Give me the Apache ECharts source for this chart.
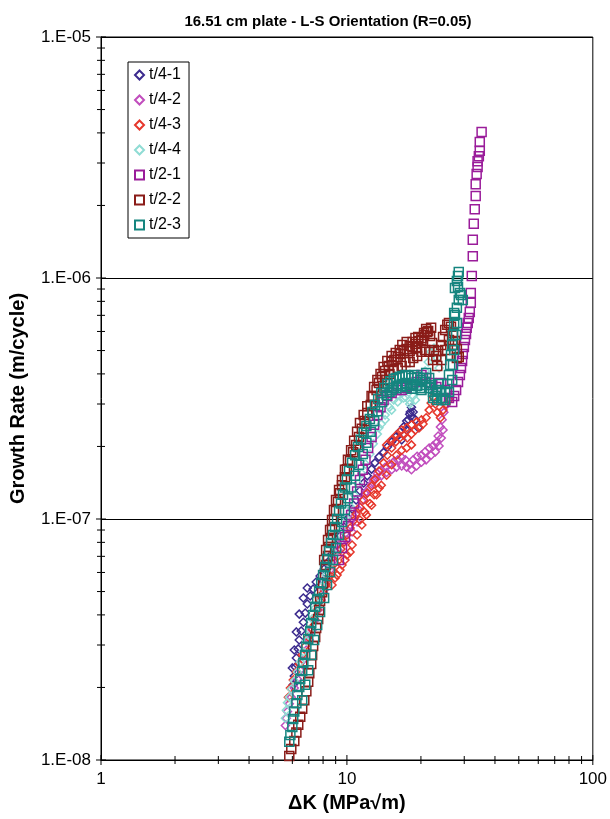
<!DOCTYPE html>
<html>
<head>
<meta charset="utf-8">
<style>
  html, body { margin: 0; padding: 0; background: #fff; }
  #chart { width: 610px; height: 819px; }
</style>
<script src="https://cdn.jsdelivr.net/npm/echarts@6/dist/echarts.min.js"></script>
</head>
<body>
<div id="chart"></div>
<script>
// values: [ΔK (MPa√m), da/dN (m/cycle)]
const seriesNames = ["t/4-1", "t/4-2", "t/4-3", "t/4-4", "t/2-1", "t/2-2", "t/2-3"];

const t41 = [
  [6.05, 2.05e-8], [6.11, 2.23e-8], [6.17, 2.43e-8], [6.23, 2.65e-8], [6.34, 2.89e-8],
  [6.40, 3.15e-8], [6.52, 3.43e-8], [6.65, 3.73e-8], [6.77, 4.07e-8], [6.90, 4.44e-8],
  [7.09, 4.79e-8], [7.29, 5.12e-8], [7.50, 5.48e-8], [7.78, 5.80e-8], [8.08, 6.20e-8],
  [8.38, 6.63e-8], [8.70, 7.16e-8], [9.03, 7.80e-8], [9.37, 8.50e-8], [9.73, 9.26e-8],
  [10.1, 1.01e-7], [10.5, 1.10e-7], [10.9, 1.20e-7], [11.3, 1.31e-7], [11.7, 1.41e-7],
  [12.1, 1.51e-7], [12.6, 1.61e-7], [13.0, 1.71e-7], [13.5, 1.81e-7], [14.1, 1.89e-7],
  [14.6, 1.99e-7], [15.2, 2.09e-7], [15.8, 2.19e-7], [16.4, 2.30e-7], [17.0, 2.41e-7],
  [17.5, 2.55e-7], [18.0, 2.72e-7], [18.3, 2.91e-7], [18.6, 2.78e-7], [19.0, 2.58e-7],
  [19.5, 2.39e-7],
  [6.00, 2.41e-8], [6.11, 2.86e-8], [6.23, 3.40e-8], [6.40, 4.03e-8], [6.65, 4.70e-8],
  [6.90, 5.17e-8], [17.5, 2.34e-7], [17.8, 2.58e-7], [18.1, 2.78e-7], [18.5, 2.63e-7],
  [16.7, 2.13e-7]
];

const t42 = [
  [5.62, 1.39e-8], [5.67, 1.49e-8], [5.73, 1.59e-8], [5.83, 1.71e-8], [5.94, 1.82e-8],
  [6.11, 1.99e-8], [6.29, 2.17e-8], [6.46, 2.36e-8], [6.65, 2.60e-8], [6.84, 2.86e-8],
  [7.03, 3.15e-8], [7.22, 3.46e-8], [7.43, 3.81e-8], [7.64, 4.19e-8], [7.86, 4.61e-8],
  [8.08, 5.07e-8], [8.30, 5.58e-8], [8.54, 6.14e-8], [8.86, 6.76e-8], [9.20, 7.43e-8],
  [9.55, 8.10e-8], [9.91, 8.75e-8], [10.3, 9.44e-8], [10.7, 1.02e-7], [11.1, 1.10e-7],
  [11.5, 1.19e-7], [11.9, 1.27e-7], [12.4, 1.35e-7], [12.8, 1.45e-7], [13.3, 1.54e-7],
  [13.8, 1.60e-7], [14.3, 1.64e-7], [14.9, 1.69e-7], [15.5, 1.73e-7], [16.1, 1.76e-7],
  [16.7, 1.80e-7], [17.3, 1.76e-7], [18.0, 1.69e-7], [18.6, 1.76e-7], [19.3, 1.82e-7],
  [20.1, 1.84e-7], [20.8, 1.90e-7], [21.6, 1.97e-7], [22.4, 2.01e-7], [23.1, 2.07e-7],
  [23.5, 2.21e-7], [24.0, 2.41e-7], [24.4, 2.58e-7], [24.8, 2.77e-7], [25.3, 2.97e-7],
  [26.0, 3.18e-7],
  [12.0, 1.30e-7], [12.6, 1.40e-7], [13.2, 1.48e-7], [13.8, 1.51e-7], [14.5, 1.56e-7],
  [15.2, 1.60e-7], [15.9, 1.64e-7], [16.7, 1.66e-7], [17.5, 1.64e-7], [18.3, 1.60e-7],
  [19.2, 1.66e-7], [20.1, 1.72e-7], [21.0, 1.76e-7], [22.0, 1.84e-7], [22.9, 1.90e-7],
  [23.7, 2.01e-7], [24.2, 2.17e-7], [24.6, 2.34e-7], [10.0, 8.18e-8], [10.5, 8.83e-8],
  [11.0, 9.72e-8]
];

const t43 = [
  [5.78, 1.82e-8], [5.89, 1.99e-8], [6.05, 2.15e-8], [6.23, 2.32e-8], [6.40, 2.50e-8],
  [6.58, 2.73e-8], [6.77, 2.97e-8], [6.96, 3.24e-8], [7.16, 3.53e-8], [7.36, 3.85e-8],
  [7.57, 4.19e-8], [7.78, 4.57e-8], [8.00, 4.93e-8], [8.23, 5.32e-8], [8.46, 5.74e-8],
  [8.70, 6.14e-8], [8.95, 6.57e-8], [9.20, 7.02e-8], [9.46, 7.50e-8], [9.73, 8.02e-8],
  [10.0, 8.58e-8], [10.3, 9.17e-8], [10.6, 9.81e-8], [10.9, 1.05e-7], [11.3, 1.12e-7],
  [11.7, 1.20e-7], [12.1, 1.28e-7], [12.6, 1.37e-7], [13.0, 1.46e-7], [13.5, 1.58e-7],
  [14.1, 1.71e-7], [14.6, 1.84e-7], [15.2, 1.97e-7], [15.8, 2.09e-7], [16.4, 2.17e-7],
  [17.0, 2.23e-7], [17.6, 2.17e-7], [18.3, 2.25e-7], [19.0, 2.34e-7], [19.7, 2.39e-7],
  [20.4, 2.48e-7], [21.0, 2.63e-7], [21.6, 2.83e-7], [22.0, 3.03e-7], [22.4, 3.21e-7],
  [22.9, 3.00e-7], [23.3, 2.77e-7], [24.0, 2.63e-7], [24.6, 2.83e-7], [25.3, 3.00e-7],
  [26.0, 3.12e-7],
  [9.12, 5.85e-8], [9.55, 6.44e-8], [10.0, 7.09e-8], [10.5, 7.80e-8], [11.0, 8.58e-8],
  [11.5, 9.44e-8], [12.0, 1.04e-7], [12.6, 1.14e-7], [13.2, 1.26e-7], [13.8, 1.38e-7],
  [14.5, 1.52e-7], [15.2, 1.68e-7], [15.9, 1.84e-7], [16.7, 1.93e-7], [17.5, 1.97e-7],
  [18.3, 2.03e-7],
  [14.5, 2.03e-7], [15.2, 2.13e-7], [15.9, 2.23e-7], [16.7, 2.34e-7], [17.5, 2.39e-7],
  [18.3, 2.46e-7], [19.2, 2.53e-7], [20.1, 2.58e-7], [11.3, 9.90e-8], [11.8, 1.07e-7],
  [12.4, 1.16e-7], [12.9, 1.26e-7], [13.5, 1.34e-7], [8.70, 5.32e-8], [8.95, 5.69e-8],
  [9.37, 6.14e-8], [9.82, 6.76e-8], [10.3, 7.29e-8]
];

const t44 = [
  [5.62, 1.49e-8], [5.67, 1.61e-8], [5.73, 1.73e-8], [5.83, 1.82e-8], [5.94, 1.97e-8],
  [6.11, 2.13e-8], [6.29, 2.32e-8], [6.46, 2.55e-8], [6.65, 2.81e-8], [6.84, 3.12e-8],
  [7.03, 3.46e-8], [7.22, 3.85e-8], [7.43, 4.27e-8], [7.64, 4.75e-8], [7.93, 5.27e-8],
  [8.23, 5.85e-8], [8.54, 6.51e-8], [8.86, 7.23e-8], [9.20, 8.10e-8], [9.55, 9.00e-8],
  [9.91, 1.01e-7], [10.3, 1.13e-7], [10.7, 1.26e-7], [11.1, 1.40e-7], [11.5, 1.54e-7],
  [11.9, 1.69e-7], [12.4, 1.86e-7], [12.8, 2.05e-7], [13.3, 2.25e-7], [13.8, 2.48e-7],
  [14.3, 2.70e-7], [14.9, 2.91e-7], [15.5, 3.12e-7], [16.1, 3.27e-7], [16.7, 3.33e-7],
  [17.3, 3.21e-7], [18.0, 3.09e-7], [18.6, 3.24e-7], [19.3, 3.43e-7], [20.1, 3.70e-7],
  [20.8, 4.11e-7], [21.4, 4.48e-7], [22.0, 4.94e-7], [22.6, 5.12e-7], [23.3, 4.66e-7],
  [23.7, 4.23e-7],
  [12.8, 2.17e-7], [13.5, 2.39e-7], [14.3, 2.58e-7], [15.2, 2.83e-7], [16.1, 3.06e-7],
  [17.0, 3.18e-7], [18.0, 3.00e-7], [19.0, 3.12e-7]
];

const t21 = [
  [9.28, 6.76e-8], [9.55, 7.58e-8], [9.82, 8.42e-8], [10.1, 9.35e-8], [10.4, 1.04e-7],
  [10.7, 1.16e-7], [11.0, 1.30e-7], [11.3, 1.45e-7], [11.6, 1.60e-7], [11.9, 1.76e-7],
  [12.2, 1.97e-7], [12.6, 2.19e-7], [12.9, 2.46e-7], [13.3, 2.70e-7], [13.7, 2.91e-7],
  [14.1, 3.12e-7], [14.6, 3.24e-7], [15.2, 3.33e-7], [15.9, 3.43e-7], [16.7, 3.43e-7],
  [17.5, 3.50e-7], [18.3, 3.57e-7], [19.2, 3.70e-7], [20.1, 3.96e-7], [21.0, 3.85e-7],
  [22.0, 3.67e-7], [23.1, 3.53e-7], [24.2, 3.67e-7], [25.1, 3.43e-7], [26.0, 3.18e-7],
  [26.8, 3.06e-7], [27.3, 3.24e-7], [27.8, 3.43e-7], [28.3, 3.70e-7], [28.8, 3.96e-7],
  [29.1, 4.23e-7], [29.4, 4.52e-7], [29.6, 4.84e-7], [29.9, 5.17e-7], [30.2, 5.53e-7],
  [30.5, 5.85e-7], [30.7, 6.21e-7], [31.0, 6.51e-7], [31.3, 6.83e-7], [31.6, 7.23e-7],
  [31.9, 7.89e-7], [31.9, 8.67e-7], [32.2, 1.02e-6], [32.5, 1.23e-6], [32.5, 1.44e-6],
  [32.8, 1.68e-6], [33.1, 1.93e-6], [33.4, 2.19e-6], [33.4, 2.45e-6], [33.7, 2.70e-6],
  [34.0, 2.89e-6], [34.0, 3.05e-6], [34.4, 3.20e-6], [34.7, 3.37e-6], [34.7, 3.67e-6],
  [35.3, 4.03e-6]
];

const t22 = [
  [5.83, 1.04e-8], [5.94, 1.11e-8], [6.11, 1.20e-8], [6.23, 1.30e-8], [6.34, 1.40e-8],
  [6.46, 1.51e-8], [6.58, 1.63e-8], [6.71, 1.77e-8], [6.84, 1.93e-8], [6.96, 2.11e-8],
  [7.03, 2.29e-8], [7.16, 2.50e-8], [7.22, 2.73e-8], [7.29, 2.97e-8], [7.43, 3.24e-8],
  [7.50, 3.53e-8], [7.64, 3.85e-8], [7.71, 4.19e-8], [7.78, 4.57e-8], [7.93, 4.97e-8],
  [8.00, 5.42e-8], [8.15, 5.90e-8], [8.23, 6.44e-8], [8.38, 7.02e-8], [8.46, 7.65e-8],
  [8.62, 8.34e-8], [8.70, 9.09e-8], [8.86, 9.90e-8], [9.03, 1.08e-7], [9.20, 1.18e-7],
  [9.37, 1.28e-7], [9.55, 1.38e-7], [9.82, 1.49e-7], [10.0, 1.61e-7], [10.3, 1.74e-7],
  [10.6, 1.89e-7], [10.9, 2.03e-7], [11.2, 2.19e-7], [11.5, 2.37e-7], [11.8, 2.55e-7],
  [12.1, 2.75e-7], [12.5, 2.97e-7], [12.8, 3.21e-7], [13.2, 3.43e-7], [13.5, 3.67e-7],
  [13.9, 3.88e-7], [14.3, 4.11e-7], [14.8, 4.31e-7], [15.2, 4.48e-7], [15.6, 4.57e-7],
  [16.1, 4.70e-7], [16.5, 4.84e-7], [17.0, 4.98e-7], [17.5, 5.08e-7], [18.0, 4.98e-7],
  [18.5, 5.17e-7], [19.0, 5.32e-7], [19.5, 5.48e-7], [20.1, 5.64e-7], [20.6, 5.80e-7],
  [21.2, 5.97e-7], [21.8, 5.74e-7], [22.2, 5.37e-7], [22.6, 5.03e-7], [23.1, 4.75e-7],
  [23.5, 4.98e-7], [24.2, 5.27e-7], [24.6, 5.69e-7], [25.1, 6.09e-7], [25.6, 6.39e-7],
  [26.0, 6.51e-7], [26.5, 6.27e-7], [27.0, 5.91e-7], [27.5, 5.48e-7], [28.0, 5.08e-7],
  [28.5, 4.70e-7],
  [8.08, 6.76e-8], [8.23, 7.43e-8], [8.38, 8.18e-8], [8.54, 9.00e-8], [8.70, 9.90e-8],
  [8.86, 1.09e-7], [9.03, 1.20e-7], [9.29, 1.32e-7], [9.55, 1.45e-7], [9.82, 1.60e-7],
  [10.1, 1.76e-7], [10.4, 1.93e-7], [10.7, 2.11e-7], [11.0, 2.30e-7], [11.3, 2.50e-7],
  [11.7, 2.70e-7], [12.1, 2.94e-7], [12.6, 3.24e-7], [12.9, 3.53e-7], [13.3, 3.77e-7],
  [13.7, 4.00e-7], [14.1, 4.27e-7], [14.6, 4.52e-7], [15.2, 4.75e-7], [15.8, 4.89e-7],
  [16.4, 5.03e-7], [16.8, 5.27e-7], [17.5, 5.43e-7], [18.0, 5.22e-7], [18.5, 5.43e-7],
  [19.0, 5.64e-7], [19.5, 5.69e-7], [20.1, 5.53e-7], [20.6, 5.91e-7], [21.0, 6.15e-7],
  [21.4, 6.03e-7], [22.0, 6.21e-7],
  [14.3, 3.77e-7], [14.9, 4.00e-7], [15.5, 4.15e-7], [16.1, 4.23e-7], [16.7, 4.31e-7],
  [17.3, 4.48e-7], [18.0, 4.48e-7], [18.6, 4.66e-7], [19.3, 4.75e-7], [20.1, 4.94e-7],
  [20.8, 5.03e-7], [21.6, 4.94e-7], [22.4, 4.57e-7], [23.3, 4.31e-7], [24.2, 4.57e-7],
  [25.1, 5.03e-7], [26.0, 5.53e-7], [27.0, 5.27e-7], [28.0, 4.66e-7], [19.3, 5.12e-7]
];

const t23 = [
  [5.83, 1.19e-8], [5.89, 1.27e-8], [6.00, 1.37e-8], [6.05, 1.48e-8], [6.11, 1.59e-8],
  [6.23, 1.72e-8], [6.29, 1.86e-8], [6.40, 2.01e-8], [6.46, 2.17e-8], [6.58, 2.34e-8],
  [6.65, 2.53e-8], [6.77, 2.73e-8], [6.84, 2.95e-8], [6.96, 3.18e-8], [7.09, 3.43e-8],
  [7.16, 3.70e-8], [7.29, 4.00e-8], [7.43, 4.32e-8], [7.57, 4.66e-8], [7.71, 5.02e-8],
  [7.86, 5.42e-8], [8.00, 5.85e-8], [8.15, 6.32e-8], [8.30, 6.82e-8], [8.46, 7.36e-8],
  [8.62, 7.95e-8], [8.78, 8.58e-8], [8.95, 9.26e-8], [9.12, 1.00e-7], [9.29, 1.08e-7],
  [9.46, 1.16e-7], [9.64, 1.26e-7], [9.82, 1.35e-7], [10.0, 1.46e-7], [10.2, 1.58e-7],
  [10.5, 1.71e-7], [10.8, 1.84e-7], [11.1, 1.99e-7], [11.4, 2.13e-7], [11.7, 2.28e-7],
  [12.0, 2.43e-7], [12.4, 2.60e-7], [12.7, 2.78e-7], [13.0, 2.97e-7], [13.4, 3.15e-7],
  [13.8, 3.33e-7], [14.2, 3.50e-7], [14.6, 3.63e-7], [15.0, 3.73e-7], [15.5, 3.81e-7],
  [15.9, 3.85e-7], [16.4, 3.88e-7], [16.8, 3.92e-7], [17.3, 3.96e-7], [17.8, 3.92e-7],
  [18.3, 3.85e-7], [18.8, 3.96e-7], [19.3, 3.88e-7], [19.9, 3.77e-7], [20.4, 3.85e-7],
  [21.0, 4.03e-7], [21.6, 3.85e-7], [22.0, 3.60e-7], [22.4, 3.37e-7], [22.9, 3.24e-7],
  [23.3, 3.43e-7], [23.7, 3.63e-7], [24.2, 3.37e-7], [24.6, 3.18e-7], [25.1, 3.37e-7],
  [25.6, 3.63e-7], [26.0, 3.96e-7], [26.3, 4.35e-7], [26.5, 4.79e-7], [26.8, 5.27e-7],
  [27.0, 5.80e-7], [27.3, 6.39e-7], [27.5, 7.03e-7], [28.0, 7.52e-7], [28.5, 8.11e-7],
  [28.8, 8.67e-7], [28.3, 9.18e-7], [28.0, 9.72e-7], [28.3, 1.02e-6], [28.5, 1.06e-6],
  [29.1, 8.51e-7], [29.6, 8.11e-7], [27.5, 9.09e-7], [27.3, 7.16e-7],
  [6.58, 1.77e-8], [6.77, 2.05e-8], [6.96, 2.36e-8], [7.16, 2.73e-8], [7.36, 3.15e-8],
  [7.57, 3.63e-8], [7.78, 4.11e-8], [8.08, 4.70e-8], [8.30, 5.32e-8], [8.54, 6.02e-8],
  [8.78, 6.76e-8], [9.03, 7.58e-8], [9.29, 8.58e-8], [9.55, 9.72e-8], [9.82, 1.09e-7],
  [10.1, 1.22e-7], [10.4, 1.35e-7], [10.8, 1.51e-7], [11.2, 1.68e-7], [11.6, 1.86e-7],
  [12.0, 2.07e-7], [12.5, 2.30e-7], [12.9, 2.55e-7], [13.4, 2.80e-7], [13.9, 3.06e-7],
  [14.5, 3.27e-7], [15.2, 3.43e-7], [15.9, 3.50e-7], [16.7, 3.57e-7], [17.5, 3.53e-7],
  [18.3, 3.47e-7], [19.2, 3.57e-7], [20.1, 3.43e-7], [21.0, 3.60e-7],
  [14.9, 3.37e-7], [15.5, 3.50e-7], [16.1, 3.57e-7], [16.7, 3.63e-7], [17.3, 3.67e-7],
  [18.0, 3.60e-7], [18.6, 3.63e-7], [19.3, 3.57e-7], [20.1, 3.50e-7], [20.8, 3.70e-7],
  [21.6, 3.50e-7], [22.4, 3.18e-7], [23.3, 3.12e-7], [24.2, 3.12e-7], [25.1, 3.12e-7],
  [26.0, 3.37e-7], [26.8, 3.77e-7], [27.0, 4.35e-7], [27.3, 5.03e-7], [27.8, 5.80e-7],
  [28.0, 6.51e-7]
];

const seriesData = [t41, t42, t43, t44, t21, t22, t23];
const seriesColors = ["#3b2a8e", "#c14dbd", "#e6372c", "#8fdcd4", "#9a1c9a", "#8a1c18", "#15857f"];
const seriesSymbols = ["diamond", "diamond", "diamond", "diamond", "rect", "rect", "rect"];

// axis ranges and tick values
const X_MIN = 1;
const X_MAX = 100;
const Y_MIN = 1e-8;
const Y_MAX = 1e-5;
const xMajorTicks = [1, 10, 100];
const xMinorTicks = [2, 3, 4, 5, 6, 7, 8, 9, 20, 30, 40, 50, 60, 70, 80, 90];
const yMajorTicks = [1e-8, 1e-7, 1e-6, 1e-5];
const yMinorTicks = [
  2e-8, 3e-8, 4e-8, 5e-8, 6e-8, 7e-8, 8e-8, 9e-8,
  2e-7, 3e-7, 4e-7, 5e-7, 6e-7, 7e-7, 8e-7, 9e-7,
  2e-6, 3e-6, 4e-6, 5e-6, 6e-6, 7e-6, 8e-6, 9e-6
];

const FONT = '"Liberation Sans", Arial, sans-serif';

function tickItem(params, api) {
  const p = api.coord([api.value(0), api.value(1)]);
  const half = api.value(2);
  const vertical = api.value(3) === 1;
  return {
    type: "line",
    shape: vertical
      ? { x1: p[0], y1: p[1] - half, x2: p[0], y2: p[1] + half }
      : { x1: p[0] - half, y1: p[1], x2: p[0] + half, y2: p[1] },
    style: { stroke: "#000", lineWidth: 1 },
  };
}

const xTickData = [
  ...xMajorTicks.map((v) => [v, Y_MIN, 5, 1]),
  ...xMinorTicks.map((v) => [v, Y_MIN, 4, 1]),
];
const yTickData = [
  ...yMajorTicks.map((v) => [X_MIN, v, 5, 0]),
  ...yMinorTicks.map((v) => [X_MIN, v, 4, 0]),
];

const chart = echarts.init(document.getElementById("chart"), null, { renderer: "canvas" });

const scatterSeries = seriesNames.map((name, i) => ({
  name,
  type: "scatter",
  data: seriesData[i],
  symbol: seriesSymbols[i],
  symbolSize: seriesSymbols[i] === "rect" ? 9 : 8,
  itemStyle: {
    color: "rgba(0,0,0,0)",
    borderColor: seriesColors[i],
    borderWidth: 1.5,
    opacity: 1,
  },
  emphasis: { disabled: true },
  animation: false,
}));

chart.setOption({
  animation: false,
  backgroundColor: "#fff",
  title: {
    text: "16.51 cm plate - L-S Orientation (R=0.05)",
    left: 323,
    top: 9,
    textAlign: "center",
    textStyle: { fontFamily: FONT, fontSize: 15, fontWeight: "bold", color: "#000" },
  },
  legend: {
    data: seriesNames,
    orient: "vertical",
    left: 128,
    top: 62,
    padding: [5, 8, 5, 6],
    itemWidth: 9,
    itemHeight: 9,
    itemGap: 9,
    itemTextGap: 5,
    backgroundColor: "#fff",
    borderColor: "#000",
    borderWidth: 1,
    borderRadius: 0,
    textStyle: { fontFamily: FONT, fontSize: 16, lineHeight: 16, color: "#000" },
  },
  grid: {
    left: 100,
    right: 17,
    top: 37,
    bottom: 59,
    show: true,
    borderColor: "#000",
    borderWidth: 1,
    backgroundColor: "transparent",
  },
  xAxis: {
    type: "log",
    logBase: 10,
    min: X_MIN,
    max: X_MAX,
    name: "ΔK (MPa√m)",
    nameLocation: "middle",
    nameGap: 33,
    nameTextStyle: { fontFamily: FONT, fontSize: 20, fontWeight: "bold", color: "#000" },
    axisLine: { lineStyle: { color: "#000", width: 1 } },
    axisTick: { show: false },
    axisLabel: { fontFamily: FONT, fontSize: 17, color: "#000", margin: 11 },
    splitLine: { show: false },
  },
  yAxis: {
    type: "log",
    logBase: 10,
    min: Y_MIN,
    max: Y_MAX,
    name: "Growth Rate (m/cycle)",
    nameLocation: "middle",
    nameGap: 73,
    nameTextStyle: { fontFamily: FONT, fontSize: 20, fontWeight: "bold", color: "#000" },
    axisLine: { lineStyle: { color: "#000", width: 1 } },
    axisTick: { show: false },
    axisLabel: {
      fontFamily: FONT,
      fontSize: 17,
      color: "#000",
      margin: 10,
      formatter: (v) => "1.E-" + String(-Math.round(Math.log10(v))).padStart(2, "0"),
    },
    splitLine: { show: true, lineStyle: { color: "#000", width: 1 } },
  },
  series: [
    ...scatterSeries,
    {
      type: "custom",
      data: xTickData,
      renderItem: tickItem,
      clip: false,
      silent: true,
      z: 5,
      encode: { x: 0, y: 1 },
    },
    {
      type: "custom",
      data: yTickData,
      renderItem: tickItem,
      clip: false,
      silent: true,
      z: 5,
      encode: { x: 0, y: 1 },
    },
  ],
});
</script>
</body>
</html>
